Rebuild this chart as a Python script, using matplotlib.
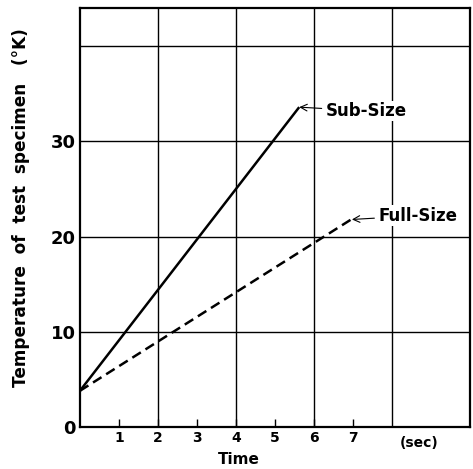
import matplotlib
matplotlib.use('Agg')
import matplotlib.pyplot as plt
from matplotlib.ticker import FixedLocator

# data
subTime = [0, 5.6]
subTemp = [3.8, 33.5]
fullTime = [0, 6.95]
fullTemp = [3.8, 21.8]

xTicks = [1, 2, 3, 4, 5, 6, 7]
xGrid = [2, 4, 6, 8]
yTicks = [0, 10, 20, 30]
yGrid = [10, 20, 30, 40]

plt.rcParams['font.family'] = ['DejaVu Sans']
plt.rcParams['font.weight'] = 'bold'

fig = plt.figure(figsize=(4.73, 4.69), dpi=100)
ax = fig.add_axes([0.169, 0.0896, 0.825, 0.893])

black = 'black'

# grid lines
for gx in xGrid:
    ax.axvline(gx, color=black, linewidth=1.0, zorder=1)
for gy in yGrid:
    ax.axhline(gy, color=black, linewidth=1.0, zorder=1)

ax.plot(subTime, subTemp, color=black, linewidth=1.8, linestyle='-', zorder=3)
ax.plot(fullTime, fullTemp, color=black, linewidth=1.8, linestyle=(0, (4, 2.2)), zorder=3)

ax.set_xlim(0, 10)
ax.set_ylim(0, 44)

ax.xaxis.set_major_locator(FixedLocator(xTicks))
ax.yaxis.set_major_locator(FixedLocator(yTicks))
ax.set_xticklabels([str(t) for t in xTicks], fontsize=10, fontweight='bold')
ax.set_yticklabels([str(t) for t in yTicks], fontsize=13, fontweight='heavy')
ax.tick_params(axis='x', direction='in', length=6, width=1.0, pad=3)
ax.tick_params(axis='y', length=0, pad=3)
ax.tick_params(top=False, right=False)

for s in ax.spines.values():
    s.set_linewidth(1.6)

ax.text(8.7, -0.9, '(sec)', fontsize=10, fontweight='bold', ha='center', va='top')
ax.set_xlabel('Time', fontsize=11, fontweight='bold', labelpad=0)
ax.xaxis.set_label_coords(0.407, -0.06)
ax.set_ylabel('Temperature  of  test  specimen   (\u00b0K)', fontsize=12.2, fontweight='bold')
ax.yaxis.set_label_coords(-0.128, 0.525)

# labels with arrows
ax.annotate('Sub-Size', xy=(5.62, 33.6), xytext=(6.3, 33.2), fontsize=12, fontweight='bold',
            va='center', ha='left', zorder=4,
            bbox=dict(facecolor='white', edgecolor='none', pad=1),
            arrowprops=dict(arrowstyle='->', color=black, linewidth=0.8, shrinkA=2, shrinkB=0))
ax.annotate('Full-Size', xy=(6.97, 21.8), xytext=(7.65, 22.2), fontsize=12, fontweight='bold',
            va='center', ha='left', zorder=4,
            bbox=dict(facecolor='white', edgecolor='none', pad=1),
            arrowprops=dict(arrowstyle='->', color=black, linewidth=0.8, shrinkA=2, shrinkB=0))

fig.savefig('out.png', dpi=100)
